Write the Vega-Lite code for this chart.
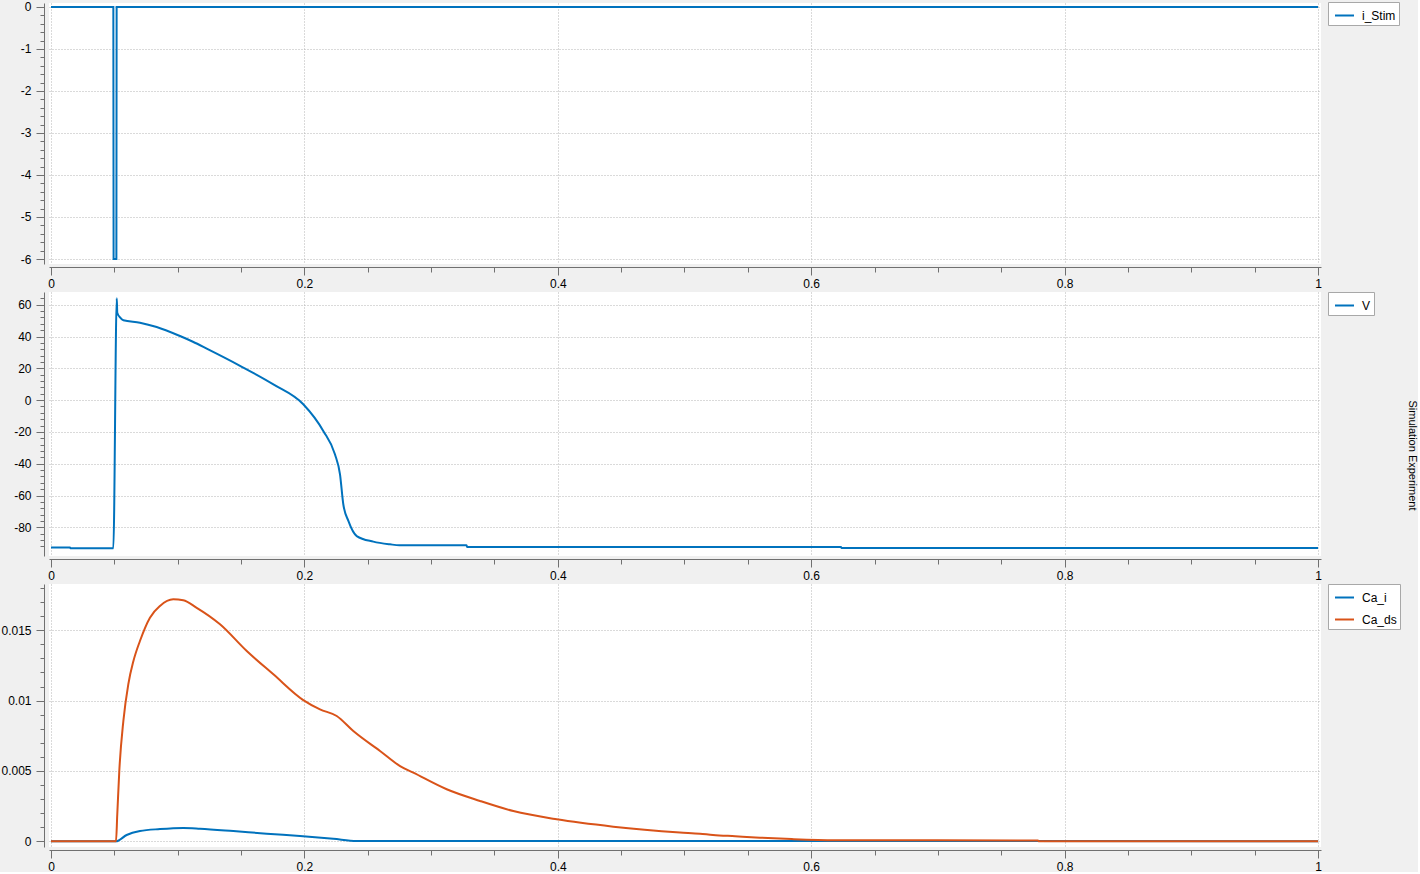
{
  "$schema": "https://vega.github.io/schema/vega-lite/v6.json",
  "background": "#f0f0f0",
  "padding": {"left": 0, "top": 0, "right": 0, "bottom": 0},
  "spacing": 28,
  "bounds": "flush",
  "config": {
    "view": {"fill": "white", "stroke": null},
    "axis": {
      "labelFont": "Liberation Sans",
      "labelFontSize": 12,
      "labelColor": "#000000",
      "domainColor": "#707070",
      "tickColor": "#707070",
      "gridColor": "#b4b4b4",
      "gridDash": [1, 2],
      "gridWidth": 1,
      "labelFlush": false,
      "labelOverlap": false,
      "labelBound": false,
      "title": null
    },
    "legend": {
      "fillColor": "white",
      "strokeColor": "#a8a8a8",
      "padding": 3,
      "symbolOffset": 3,
      "symbolType": "stroke",
      "symbolStrokeWidth": 2,
      "symbolSize": 361,
      "labelFont": "Liberation Sans",
      "labelFontSize": 12,
      "labelColor": "#000000",
      "labelOffset": 7,
      "rowPadding": 5,
      "cornerRadius": 0
    }
  },
  "title": {
    "text": "Simulation Experiment",
    "orient": "right",
    "anchor": "middle",
    "font": "Liberation Sans",
    "fontSize": 11,
    "fontWeight": "normal",
    "color": "#000000",
    "offset": 6,
    "dx": 19
  },
  "resolve": {
    "scale": {"color": "independent", "x": "independent", "y": "independent"},
    "legend": {"color": "independent"}
  },
  "datasets": {
    "stim": [
      {"t": 0, "series": "i_Stim", "value": 0},
      {"t": 0.0492, "series": "i_Stim", "value": 0},
      {"t": 0.0494, "series": "i_Stim", "value": -6},
      {"t": 0.0516, "series": "i_Stim", "value": -6},
      {"t": 0.0518, "series": "i_Stim", "value": 0},
      {"t": 1, "series": "i_Stim", "value": 0}
    ],
    "v": [
      {"t": 0, "series": "V", "value": -92.7},
      {"t": 0.015, "series": "V", "value": -92.7},
      {"t": 0.0152, "series": "V", "value": -93.1},
      {"t": 0.0492, "series": "V", "value": -93.1},
      {"t": 0.0519, "series": "V", "value": 64},
      {"t": 0.0523, "series": "V", "value": 55},
      {"t": 0.0545, "series": "V", "value": 52},
      {"t": 0.0571, "series": "V", "value": 50.2},
      {"t": 0.0702, "series": "V", "value": 48.7},
      {"t": 0.0834, "series": "V", "value": 46},
      {"t": 0.1018, "series": "V", "value": 40.3},
      {"t": 0.112, "series": "V", "value": 36.7},
      {"t": 0.1229, "series": "V", "value": 32.4},
      {"t": 0.1492, "series": "V", "value": 21.6},
      {"t": 0.1755, "series": "V", "value": 9.9},
      {"t": 0.1991, "series": "V", "value": -2.6},
      {"t": 0.2149, "series": "V", "value": -19.4},
      {"t": 0.2241, "series": "V", "value": -34.1},
      {"t": 0.2281, "series": "V", "value": -46.7},
      {"t": 0.2307, "series": "V", "value": -65.5},
      {"t": 0.2347, "series": "V", "value": -76},
      {"t": 0.2413, "series": "V", "value": -85.5},
      {"t": 0.2544, "series": "V", "value": -89},
      {"t": 0.2676, "series": "V", "value": -90.7},
      {"t": 0.275, "series": "V", "value": -91.3},
      {"t": 0.328, "series": "V", "value": -91.3},
      {"t": 0.3285, "series": "V", "value": -92.4},
      {"t": 0.6235, "series": "V", "value": -92.4},
      {"t": 0.624, "series": "V", "value": -93.0},
      {"t": 1, "series": "V", "value": -93.0}
    ],
    "ca": [
      {"t": 0, "series": "Ca_i", "value": 0},
      {"t": 0.0513, "series": "Ca_i", "value": 0},
      {"t": 0.0597, "series": "Ca_i", "value": 0.00045},
      {"t": 0.0702, "series": "Ca_i", "value": 0.00073},
      {"t": 0.086, "series": "Ca_i", "value": 0.00087},
      {"t": 0.1044, "series": "Ca_i", "value": 0.00095},
      {"t": 0.1176, "series": "Ca_i", "value": 0.0009},
      {"t": 0.1439, "series": "Ca_i", "value": 0.00073},
      {"t": 0.1702, "series": "Ca_i", "value": 0.00054},
      {"t": 0.1965, "series": "Ca_i", "value": 0.00038},
      {"t": 0.2228, "series": "Ca_i", "value": 0.00018},
      {"t": 0.2413, "series": "Ca_i", "value": 0.00002},
      {"t": 1, "series": "Ca_i", "value": 0.00001},
      {"t": 0, "series": "Ca_ds", "value": 0},
      {"t": 0.0513, "series": "Ca_ds", "value": 0},
      {"t": 0.0523, "series": "Ca_ds", "value": 0.0019},
      {"t": 0.0539, "series": "Ca_ds", "value": 0.005},
      {"t": 0.0571, "series": "Ca_ds", "value": 0.00855},
      {"t": 0.061, "series": "Ca_ds", "value": 0.01116},
      {"t": 0.065, "series": "Ca_ds", "value": 0.0128},
      {"t": 0.0702, "series": "Ca_ds", "value": 0.01424},
      {"t": 0.0781, "series": "Ca_ds", "value": 0.0159},
      {"t": 0.086, "series": "Ca_ds", "value": 0.01673},
      {"t": 0.0965, "series": "Ca_ds", "value": 0.0172},
      {"t": 0.1044, "series": "Ca_ds", "value": 0.01713},
      {"t": 0.115, "series": "Ca_ds", "value": 0.0166},
      {"t": 0.1334, "series": "Ca_ds", "value": 0.01543},
      {"t": 0.1545, "series": "Ca_ds", "value": 0.01353},
      {"t": 0.1755, "series": "Ca_ds", "value": 0.01187},
      {"t": 0.1991, "series": "Ca_ds", "value": 0.01004},
      {"t": 0.2123, "series": "Ca_ds", "value": 0.00938},
      {"t": 0.2255, "series": "Ca_ds", "value": 0.00891},
      {"t": 0.2386, "series": "Ca_ds", "value": 0.00784},
      {"t": 0.2597, "series": "Ca_ds", "value": 0.00642},
      {"t": 0.2755, "series": "Ca_ds", "value": 0.00535},
      {"t": 0.286, "series": "Ca_ds", "value": 0.00488},
      {"t": 0.3123, "series": "Ca_ds", "value": 0.0037},
      {"t": 0.3386, "series": "Ca_ds", "value": 0.00287},
      {"t": 0.3649, "series": "Ca_ds", "value": 0.00215},
      {"t": 0.3991, "series": "Ca_ds", "value": 0.00156},
      {"t": 0.4438, "series": "Ca_ds", "value": 0.00104},
      {"t": 0.4964, "series": "Ca_ds", "value": 0.00063},
      {"t": 0.5122, "series": "Ca_ds", "value": 0.00054},
      {"t": 0.5225, "series": "Ca_ds", "value": 0.00045},
      {"t": 0.54, "series": "Ca_ds", "value": 0.00036},
      {"t": 0.5596, "series": "Ca_ds", "value": 0.00026},
      {"t": 0.5846, "series": "Ca_ds", "value": 0.00016},
      {"t": 0.6188, "series": "Ca_ds", "value": 0.00008},
      {"t": 0.779, "series": "Ca_ds", "value": 0.00006},
      {"t": 0.7795, "series": "Ca_ds", "value": 0},
      {"t": 1, "series": "Ca_ds", "value": 0}
    ]
  },
  "vconcat": [
    {
      "width": 1272,
      "height": 261,
      "data": {"name": "stim"},
      "mark": {"type": "line", "strokeWidth": 2},
      "encoding": {
        "x": {
          "field": "t", "type": "quantitative",
          "scale": {"domain": [-0.00158, 1.00237], "nice": false, "zero": false},
          "axis": {
            "values": [0, 0.05, 0.1, 0.15, 0.2, 0.25, 0.3, 0.35, 0.4, 0.45, 0.5, 0.55, 0.6, 0.65, 0.7, 0.75, 0.8, 0.85, 0.9, 0.95, 1],
            "offset": 3, "labelPadding": 3,
            "labelExpr": "abs(datum.value*5 - round(datum.value*5)) < 1e-6 ? '' + datum.value : ''",
            "tickSize": {"condition": {"test": "abs(datum.value*5 - round(datum.value*5)) < 1e-6", "value": 8}, "value": 5},
            "gridOpacity": {"condition": {"test": "abs(datum.value*5 - round(datum.value*5)) < 1e-6", "value": 1}, "value": 0}
          }
        },
        "y": {
          "field": "value", "type": "quantitative",
          "scale": {"domain": [-6.119, 0.095], "nice": false, "zero": false},
          "axis": {
            "values": [-6, -5.8, -5.6, -5.4, -5.2, -5, -4.8, -4.6, -4.4, -4.2, -4, -3.8, -3.6, -3.4, -3.2, -3, -2.8, -2.6, -2.4, -2.2, -2, -1.8, -1.6, -1.4, -1.2, -1, -0.8, -0.6, -0.4, -0.2, 0],
            "offset": 5, "labelPadding": 5,
            "labelExpr": "abs(datum.value - round(datum.value)) < 1e-6 ? '' + datum.value : ''",
            "tickSize": {"condition": {"test": "abs(datum.value - round(datum.value)) < 1e-6", "value": 8}, "value": 4},
            "gridOpacity": {"condition": {"test": "abs(datum.value - round(datum.value)) < 1e-6", "value": 1}, "value": 0}
          }
        },
        "color": {
          "field": "series", "type": "nominal",
          "scale": {"domain": ["i_Stim"], "range": ["#0072bd"]},
          "legend": {"title": null, "orient": "none", "legendX": 1279, "legendY": -1}
        }
      }
    },
    {
      "width": 1272,
      "height": 264,
      "data": {"name": "v"},
      "mark": {"type": "line", "strokeWidth": 2, "interpolate": "monotone"},
      "encoding": {
        "x": {
          "field": "t", "type": "quantitative",
          "scale": {"domain": [-0.00158, 1.00237], "nice": false, "zero": false},
          "axis": {
            "values": [0, 0.05, 0.1, 0.15, 0.2, 0.25, 0.3, 0.35, 0.4, 0.45, 0.5, 0.55, 0.6, 0.65, 0.7, 0.75, 0.8, 0.85, 0.9, 0.95, 1],
            "offset": 3, "labelPadding": 3,
            "labelExpr": "abs(datum.value*5 - round(datum.value*5)) < 1e-6 ? '' + datum.value : ''",
            "tickSize": {"condition": {"test": "abs(datum.value*5 - round(datum.value*5)) < 1e-6", "value": 8}, "value": 5},
            "gridOpacity": {"condition": {"test": "abs(datum.value*5 - round(datum.value*5)) < 1e-6", "value": 1}, "value": 0}
          }
        },
        "y": {
          "field": "value", "type": "quantitative",
          "scale": {"domain": [-98.05, 68.0], "nice": false, "zero": false},
          "axis": {
            "values": [-92, -88, -84, -80, -76, -72, -68, -64, -60, -56, -52, -48, -44, -40, -36, -32, -28, -24, -20, -16, -12, -8, -4, 0, 4, 8, 12, 16, 20, 24, 28, 32, 36, 40, 44, 48, 52, 56, 60, 64],
            "offset": 5, "labelPadding": 5,
            "labelExpr": "datum.value % 20 == 0 ? '' + datum.value : ''",
            "tickSize": {"condition": {"test": "datum.value % 20 == 0", "value": 8}, "value": 4},
            "gridOpacity": {"condition": {"test": "datum.value % 20 == 0", "value": 1}, "value": 0}
          }
        },
        "color": {
          "field": "series", "type": "nominal",
          "scale": {"domain": ["V"], "range": ["#0072bd"]},
          "legend": {"title": null, "orient": "none", "legendX": 1279, "legendY": 0}
        }
      }
    },
    {
      "width": 1272,
      "height": 263,
      "data": {"name": "ca"},
      "mark": {"type": "line", "strokeWidth": 2, "interpolate": "monotone"},
      "encoding": {
        "x": {
          "field": "t", "type": "quantitative",
          "scale": {"domain": [-0.00158, 1.00237], "nice": false, "zero": false},
          "axis": {
            "values": [0, 0.05, 0.1, 0.15, 0.2, 0.25, 0.3, 0.35, 0.4, 0.45, 0.5, 0.55, 0.6, 0.65, 0.7, 0.75, 0.8, 0.85, 0.9, 0.95, 1],
            "offset": 3, "labelPadding": 3,
            "labelExpr": "abs(datum.value*5 - round(datum.value*5)) < 1e-6 ? '' + datum.value : ''",
            "tickSize": {"condition": {"test": "abs(datum.value*5 - round(datum.value*5)) < 1e-6", "value": 8}, "value": 5},
            "gridOpacity": {"condition": {"test": "abs(datum.value*5 - round(datum.value*5)) < 1e-6", "value": 1}, "value": 0}
          }
        },
        "y": {
          "field": "value", "type": "quantitative",
          "scale": {"domain": [-0.000405, 0.018291], "nice": false, "zero": false},
          "axis": {
            "values": [0, 0.001, 0.002, 0.003, 0.004, 0.005, 0.006, 0.007, 0.008, 0.009, 0.01, 0.011, 0.012, 0.013, 0.014, 0.015, 0.016, 0.017, 0.018],
            "offset": 5, "labelPadding": 5,
            "labelExpr": "abs(datum.value*200 - round(datum.value*200)) < 1e-6 ? '' + datum.value : ''",
            "tickSize": {"condition": {"test": "abs(datum.value*200 - round(datum.value*200)) < 1e-6", "value": 8}, "value": 4},
            "gridOpacity": {"condition": {"test": "abs(datum.value*200 - round(datum.value*200)) < 1e-6", "value": 1}, "value": 0}
          }
        },
        "color": {
          "field": "series", "type": "nominal",
          "scale": {"domain": ["Ca_i", "Ca_ds"], "range": ["#0072bd", "#d95319"]},
          "legend": {"title": null, "orient": "none", "legendX": 1279, "legendY": 0}
        }
      }
    }
  ]
}
